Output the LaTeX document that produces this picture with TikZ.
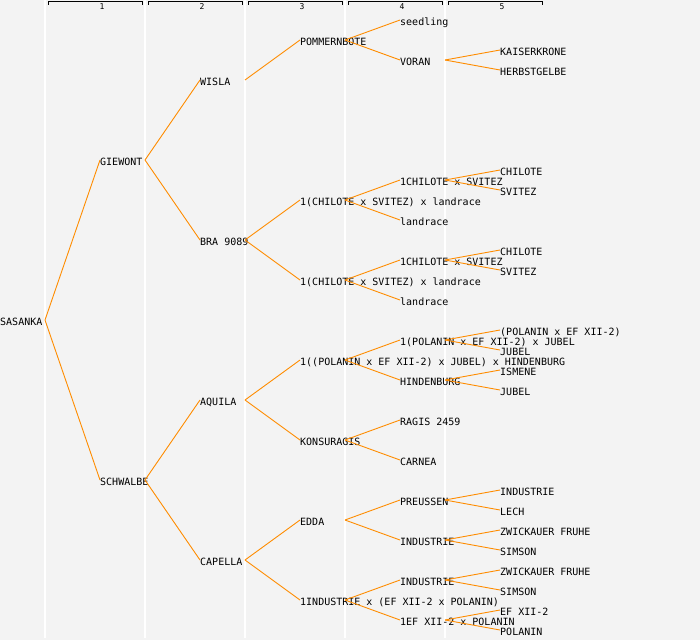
\documentclass[tikz,border=0pt]{standalone}
\usepackage{fontspec}
\setmonofont{DejaVu Sans Mono}
\usepackage{tikz}

\definecolor{bggray}{HTML}{F3F3F3}
\definecolor{linkorange}{HTML}{FF8C00}

\begin{document}
\begin{tikzpicture}[x=1pt, y=-1pt,
	every node/.style={font=\ttfamily\fontsize{10}{12}\selectfont},
	variety/.style={anchor=west, inner sep=0pt, text height=10.3pt, text depth=0pt},
	colnum/.style={font=\ttfamily\fontsize{8}{9}\selectfont, inner sep=0pt},
	link/.style={linkorange, line width=0.9pt}]
		\fill[bggray] (0,0) rectangle (700,640);
		\useasboundingbox (0,0) rectangle (700,640);
		
		% columns
		\foreach \c in {45,145,...,445}
			\draw[white, line width=1.2pt] (\c,0) -- (\c,638);
		\foreach \c in {1,...,5} {
			\draw[line width=0.9pt] ({100*\c-52},4.5) -- ({100*\c-52},1.5) -- ({100*\c+42},1.5) -- ({100*\c+42},4.5);
			\node[colnum] (h\c) at ({100*\c+2},6.5) {\c};
		}
		
		\node[variety] (sasanka) at (0,320) {SASANKA};
		
		\node[variety] (giewont) at (100,160) {GIEWONT};
		\node[variety] (schwalbe) at (100,480) {SCHWALBE};
		
		\node[variety] (wisla) at (200,80) {WISLA};
		\node[variety] (bra) at (200,240) {BRA 9089};
		\node[variety] (aquila) at (200,400) {AQUILA};
		\node[variety] (capella) at (200,560) {CAPELLA};
		
		\node[variety] (pommern) at (300,40) {POMMERNBOTE};
		\node[variety] (chil1) at (300,200) {1(CHILOTE x SVITEZ) x landrace};
		\node[variety] (chil2) at (300,280) {1(CHILOTE x SVITEZ) x landrace};
		\node[variety] (polx) at (300,360) {1((POLANIN x EF XII-2) x JUBEL) x HINDENBURG};
		\node[variety] (konsu) at (300,440) {KONSURAGIS};
		\node[variety] (edda) at (300,520) {EDDA};
		\node[variety] (indx) at (300,600) {1INDUSTRIE x (EF XII-2 x POLANIN)};
		
		\node[variety] (seedling) at (400,20) {seedling};
		\node[variety] (voran) at (400,60) {VORAN};
		\node[variety] (cs1) at (400,180) {1CHILOTE x SVITEZ};
		\node[variety] (land1) at (400,220) {landrace};
		\node[variety] (cs2) at (400,260) {1CHILOTE x SVITEZ};
		\node[variety] (land2) at (400,300) {landrace};
		\node[variety] (pej) at (400,340) {1(POLANIN x EF XII-2) x JUBEL};
		\node[variety] (hind) at (400,380) {HINDENBURG};
		\node[variety] (ragis) at (400,420) {RAGIS 2459};
		\node[variety] (carnea) at (400,460) {CARNEA};
		\node[variety] (preussen) at (400,500) {PREUSSEN};
		\node[variety] (ind1) at (400,540) {INDUSTRIE};
		\node[variety] (ind2) at (400,580) {INDUSTRIE};
		\node[variety] (efp) at (400,620) {1EF XII-2 x POLANIN};
		
		% last column
		\node[variety] (kaiser) at (500,50) {KAISERKRONE};
		\node[variety] (herbst) at (500,70) {HERBSTGELBE};
		\node[variety] (chilote1) at (500,170) {CHILOTE};
		\node[variety] (svitez1) at (500,190) {SVITEZ};
		\node[variety] (chilote2) at (500,250) {CHILOTE};
		\node[variety] (svitez2) at (500,270) {SVITEZ};
		\node[variety] (pe) at (500,330) {(POLANIN x EF XII-2)};
		\node[variety] (jubel1) at (500,350) {JUBEL};
		\node[variety] (ismene) at (500,370) {ISMENE};
		\node[variety] (jubel2) at (500,390) {JUBEL};
		\node[variety] (industrie) at (500,490) {INDUSTRIE};
		\node[variety] (lech) at (500,510) {LECH};
		\node[variety] (zwick1) at (500,530) {ZWICKAUER FRUHE};
		\node[variety] (simson1) at (500,550) {SIMSON};
		\node[variety] (zwick2) at (500,570) {ZWICKAUER FRUHE};
		\node[variety] (simson2) at (500,590) {SIMSON};
		\node[variety] (ef) at (500,610) {EF XII-2};
		\node[variety] (polanin) at (500,630) {POLANIN};
		
		% parent -> child
		\foreach \a/\b in {sasanka/giewont, sasanka/schwalbe,
				giewont/wisla, giewont/bra, schwalbe/aquila, schwalbe/capella,
				wisla/pommern, bra/chil1, bra/chil2, aquila/polx, aquila/konsu, capella/edda, capella/indx,
				pommern/seedling, pommern/voran, chil1/cs1, chil1/land1, chil2/cs2, chil2/land2,
				polx/pej, polx/hind, konsu/ragis, konsu/carnea, edda/preussen, edda/ind1, indx/ind2, indx/efp,
				voran/kaiser, voran/herbst, cs1/chilote1, cs1/svitez1, cs2/chilote2, cs2/svitez2,
				pej/pe, pej/jubel1, hind/ismene, hind/jubel2, preussen/industrie, preussen/lech,
				ind1/zwick1, ind1/simson1, ind2/zwick2, ind2/simson2, efp/ef, efp/polanin}
			\draw[link] ([xshift=45pt]\a.west) -- (\b.west);
		
	\end{tikzpicture}
\end{document}
